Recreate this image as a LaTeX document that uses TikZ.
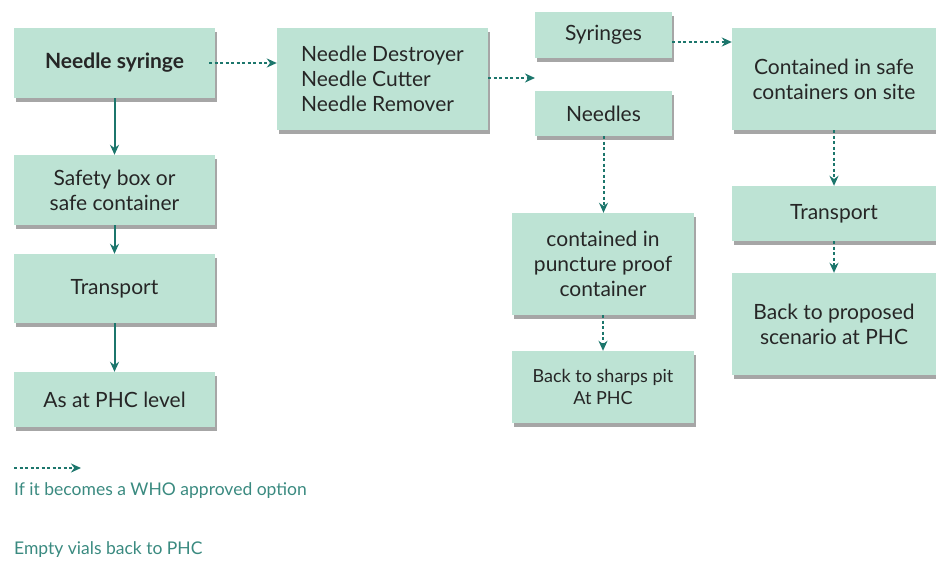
\documentclass[tikz,border=0pt]{standalone}
\usepackage{fontspec}
\setmainfont{Lato}
\usetikzlibrary{shadows,arrows.meta}
\definecolor{boxfill}{RGB}{189,227,212}
\definecolor{teal}{RGB}{28,118,108}
\definecolor{legendtxt}{RGB}{58,138,128}
\begin{document}
\begin{tikzpicture}[font=\fontsize{21}{25}\selectfont,>={Stealth[length=10pt,width=9pt]},x=1pt,y=-1pt,
    box/.style={fill=boxfill,text=black!85,align=center,inner sep=0pt,
        drop shadow={shadow xshift=2pt,shadow yshift=-4pt,fill=black,opacity=0.35}},
    solid arrow/.style={->,draw=teal,line width=2pt},
    option arrow/.style={->,draw=teal,line width=2pt,dash pattern=on 3pt off 2.5pt}]
    \useasboundingbox (0,0) rectangle (936,564);
    % left column
    \node[box,minimum width=201pt,minimum height=70pt,font=\fontsize{21}{25}\selectfont\bfseries] (syringe) at (114.5,63) {Needle syringe};
    \node[box,minimum width=201pt,minimum height=70pt] (safety) at (114.5,190) {Safety box or\\safe container};
    \node[box,minimum width=201pt,minimum height=69pt] (transpL) at (114.5,288.5) {Transport};
    \node[box,minimum width=201pt,minimum height=55pt] (phclevel) at (114.5,399.5) {As at PHC level};
    % needle removal
    \node[box,minimum width=211pt,minimum height=102pt,align=left] (destroyer) at (382.5,79) {Needle Destroyer\\Needle Cutter\\Needle Remover};
    \coordinate (split) at (535,78);
    \node[box,minimum width=137pt,minimum height=46pt] (syringes) at (603.5,35) {Syringes};
    \node[box,minimum width=137pt,minimum height=45pt] (needles) at (603.5,113.5) {Needles};
    \node[box,minimum width=182pt,minimum height=102pt] (puncture) at (603,264) {contained in\\puncture proof\\container};
    \node[box,minimum width=182pt,minimum height=72pt,font=\fontsize{18}{22}\selectfont] (sharps) at (603,387) {Back to sharps pit\\At PHC};
    % right column
    \node[box,minimum width=204pt,minimum height=102pt] (safecont) at (834,79) {Contained in safe\\containers on site};
    \node[box,minimum width=204pt,minimum height=55pt] (transpR) at (834,213.5) {Transport};
    \node[box,minimum width=204pt,minimum height=102pt] (proposed) at (834,324) {Back to proposed\\scenario at PHC};
    % connectors
    \draw[solid arrow] (syringe) -- (safety);
    \draw[solid arrow] (safety) -- (transpL);
    \draw[solid arrow] (transpL) -- (phclevel);
    \draw[option arrow] ([xshift=-6pt]syringe.east) -- (destroyer.west |- syringe.east);
    \draw[option arrow] (destroyer.east |- split) -- (split);
    \draw[option arrow] ([yshift=-7pt]syringes.east) -- ([yshift=-7pt]syringes.east -| safecont.west);
    \draw[option arrow] (needles) -- (needles |- puncture.north);
    \draw[option arrow] (puncture) -- (puncture |- sharps.north);
    \draw[option arrow] (safecont) -- (safecont |- transpR.north);
    \draw[option arrow] (transpR) -- (transpR |- proposed.north);
    % legend
    \coordinate (legstart) at (14,468);
    \coordinate (legend) at (81,468);
    \draw[option arrow] (legstart) -- (legend);
    \node[anchor=west,inner sep=0pt,text=legendtxt,font=\fontsize{17.5}{20}\selectfont] (optiontxt) at (14,491) {If it becomes a WHO approved option};
    \node[anchor=west,inner sep=0pt,text=legendtxt,font=\fontsize{17.5}{20}\selectfont] (vialstxt) at (14,550) {Empty vials back to PHC};
\end{tikzpicture}
\end{document}
